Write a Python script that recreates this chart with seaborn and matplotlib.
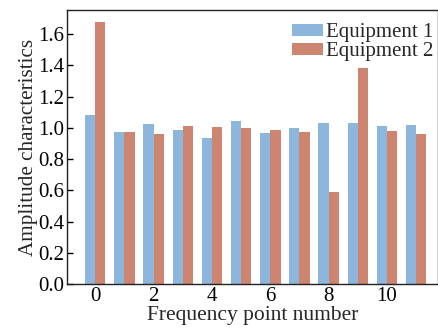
import matplotlib
matplotlib.use("Agg")
import matplotlib.pyplot as plt
import seaborn as sns
import pandas as pd

points = list(range(12))
equip1 = [1.083, 0.972, 1.026, 0.985, 0.934, 1.047, 0.968, 0.996, 1.030, 1.034, 1.011, 1.017]
equip2 = [1.675, 0.976, 0.962, 1.011, 1.006, 0.996, 0.985, 0.976, 0.592, 1.385, 0.981, 0.962]
series = ["Equipment 1", "Equipment 2"]
xtick_vals = [0, 2, 4, 6, 8, 10]
ytick_vals = [0.0, 0.2, 0.4, 0.6, 0.8, 1.0, 1.2, 1.4, 1.6]

df = pd.DataFrame({
    "point": points * 2,
    "value": equip1 + equip2,
    "series": [series[0]] * len(points) + [series[1]] * len(points),
})

sns.set_theme(style="ticks")
plt.rcParams["font.family"] = ["Liberation Serif", "DejaVu Serif"]

fig, ax = plt.subplots(figsize=(4.39, 3.30), dpi=100)
fig.subplots_adjust(left=0.153, right=0.998, top=0.97, bottom=0.139)

sns.barplot(data=df, x="point", y="value", hue="series", native_scale=True,
            palette=["#8cb6db", "#cd8570"], width=0.7, ax=ax, saturation=1,
            linewidth=0, legend=True)

ax.set_xlim(-0.96, 11.75)
ax.set_ylim(0, 1.755)
ax.set_xticks(xtick_vals)
ax.set_xticklabels([str(v) for v in xtick_vals])
ax.set_yticks(ytick_vals)
ax.set_yticklabels([f"{v:.1f}" for v in ytick_vals])
ax.tick_params(direction="in", length=4, width=1, labelsize=15, colors="black", pad=2)
for s in ax.spines.values():
    s.set_visible(True)
    s.set_color("#222222")
    s.set_linewidth(1.0)

ax.set_xlabel("Frequency point number", fontsize=15.5, labelpad=0)
ax.set_ylabel("Amplitude characteristics", fontsize=15.2, labelpad=0)

leg = ax.legend(loc="upper right", bbox_to_anchor=(1.012, 0.985), frameon=False,
                fontsize=15, handlelength=1.45, handleheight=0.5, handletextpad=0.15,
                labelspacing=0.0, borderaxespad=0.0, borderpad=0.45)

fig.savefig("out.png", dpi=100)
